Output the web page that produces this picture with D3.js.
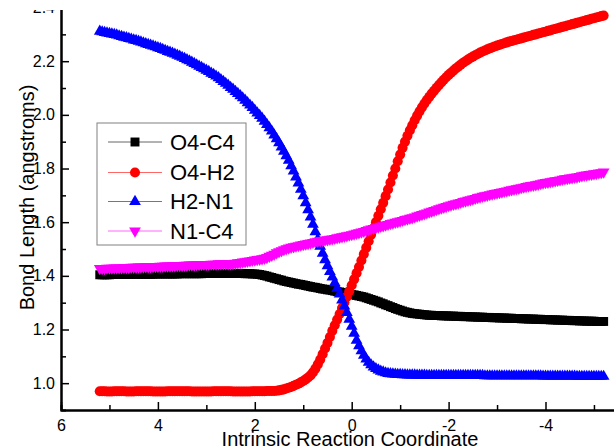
<!DOCTYPE html>
<html>
<head>
<meta charset="utf-8">
<script src="https://cdn.jsdelivr.net/npm/d3@7"></script>
<style>
  body { margin: 0; background: #fff; }
  svg { display: block; font-family: 'Liberation Sans', Arial, sans-serif; }
  .axis path, .axis line { stroke: #000; }
  .axis path { stroke-width: 2px; }
  .axis line { stroke-width: 1.5px; }
  .axis text { font-size: 16px; fill: #000; }
  .title { font-size: 20px; fill: #000; }
  .legend text { font-size: 22px; fill: #000; }
</style>
</head>
<body>
<div id="chart"></div>
<script>
// IRC positions, 5.2 down to -5.2
const irc = [
  5.2, 5.15, 5.1, 5.05, 5.0, 4.95, 4.9, 4.85, 4.8, 4.75,
  4.7, 4.65, 4.6, 4.55, 4.5, 4.45, 4.4, 4.35, 4.3, 4.25,
  4.2, 4.15, 4.1, 4.05, 4.0, 3.95, 3.9, 3.85, 3.8, 3.75,
  3.7, 3.65, 3.6, 3.55, 3.5, 3.45, 3.4, 3.35, 3.3, 3.25,
  3.2, 3.15, 3.1, 3.05, 3.0, 2.95, 2.9, 2.85, 2.8, 2.75,
  2.7, 2.65, 2.6, 2.55, 2.5, 2.45, 2.4, 2.35, 2.3, 2.25,
  2.2, 2.15, 2.1, 2.05, 2.0, 1.95, 1.9, 1.85, 1.8, 1.75,
  1.7, 1.65, 1.6, 1.55, 1.5, 1.45, 1.4, 1.35, 1.3, 1.25,
  1.2, 1.15, 1.1, 1.05, 1.0, 0.95, 0.9, 0.85, 0.8, 0.75,
  0.7, 0.65, 0.6, 0.55, 0.5, 0.45, 0.4, 0.35, 0.3, 0.25,
  0.2, 0.15, 0.1, 0.05, 0.0,
  -0.05, -0.1, -0.15, -0.2, -0.25, -0.3, -0.35, -0.4, -0.45, -0.5,
  -0.55, -0.6, -0.65, -0.7, -0.75, -0.8, -0.85, -0.9, -0.95, -1.0,
  -1.05, -1.1, -1.15, -1.2, -1.25, -1.3, -1.35, -1.4, -1.45, -1.5,
  -1.55, -1.6, -1.65, -1.7, -1.75, -1.8, -1.85, -1.9, -1.95, -2.0,
  -2.05, -2.1, -2.15, -2.2, -2.25, -2.3, -2.35, -2.4, -2.45, -2.5,
  -2.55, -2.6, -2.65, -2.7, -2.75, -2.8, -2.85, -2.9, -2.95, -3.0,
  -3.05, -3.1, -3.15, -3.2, -3.25, -3.3, -3.35, -3.4, -3.45, -3.5,
  -3.55, -3.6, -3.65, -3.7, -3.75, -3.8, -3.85, -3.9, -3.95, -4.0,
  -4.05, -4.1, -4.15, -4.2, -4.25, -4.3, -4.35, -4.4, -4.45, -4.5,
  -4.55, -4.6, -4.65, -4.7, -4.75, -4.8, -4.85, -4.9, -4.95, -5.0,
  -5.05, -5.1, -5.15, -5.2
];

const o4c4 = [
  1.404, 1.404, 1.404, 1.404, 1.404, 1.405, 1.405, 1.405, 1.405, 1.405,
  1.405, 1.405, 1.405, 1.406, 1.406, 1.406, 1.406, 1.406, 1.406, 1.406,
  1.406, 1.406, 1.406, 1.407, 1.407, 1.407, 1.407, 1.407, 1.407, 1.407,
  1.407, 1.407, 1.407, 1.408, 1.408, 1.408, 1.408, 1.408, 1.408, 1.408,
  1.408, 1.408, 1.408, 1.409, 1.409, 1.409, 1.409, 1.409, 1.409, 1.409,
  1.409, 1.409, 1.409, 1.409, 1.409, 1.409, 1.409, 1.409, 1.409, 1.409,
  1.408, 1.408, 1.408, 1.407, 1.407, 1.406, 1.405, 1.403, 1.401, 1.399,
  1.396, 1.394, 1.391, 1.389, 1.386, 1.384, 1.381, 1.379, 1.377, 1.375,
  1.373, 1.371, 1.369, 1.368, 1.366, 1.364, 1.362, 1.360, 1.358, 1.357,
  1.355, 1.353, 1.351, 1.350, 1.348, 1.347, 1.345, 1.343, 1.341, 1.340,
  1.338, 1.336, 1.334, 1.332, 1.330,
  1.329, 1.327, 1.325, 1.323, 1.321, 1.318, 1.315, 1.312, 1.309, 1.306,
  1.303, 1.299, 1.296, 1.292, 1.289, 1.285, 1.282, 1.278, 1.275, 1.272,
  1.269, 1.266, 1.264, 1.262, 1.260, 1.259, 1.258, 1.257, 1.256, 1.255,
  1.254, 1.253, 1.253, 1.252, 1.252, 1.252, 1.251, 1.251, 1.251, 1.250,
  1.250, 1.250, 1.249, 1.249, 1.249, 1.248, 1.248, 1.248, 1.247, 1.247,
  1.247, 1.246, 1.246, 1.246, 1.245, 1.245, 1.245, 1.244, 1.244, 1.244,
  1.243, 1.243, 1.243, 1.242, 1.242, 1.242, 1.241, 1.241, 1.241, 1.240,
  1.240, 1.240, 1.239, 1.239, 1.239, 1.238, 1.238, 1.238, 1.237, 1.237,
  1.237, 1.236, 1.236, 1.236, 1.235, 1.235, 1.235, 1.234, 1.234, 1.234,
  1.233, 1.233, 1.233, 1.232, 1.232, 1.232, 1.231, 1.231, 1.231, 1.231,
  1.230, 1.230, 1.230, 1.230
];

const o4h2 = [
  0.970, 0.970, 0.970, 0.969, 0.969, 0.969, 0.970, 0.970, 0.970, 0.970,
  0.970, 0.969, 0.969, 0.969, 0.969, 0.970, 0.970, 0.970, 0.970, 0.970,
  0.970, 0.970, 0.969, 0.969, 0.969, 0.969, 0.969, 0.969, 0.970, 0.970,
  0.970, 0.970, 0.970, 0.970, 0.970, 0.970, 0.970, 0.970, 0.969, 0.969,
  0.969, 0.969, 0.969, 0.969, 0.969, 0.969, 0.969, 0.970, 0.970, 0.970,
  0.970, 0.970, 0.970, 0.970, 0.970, 0.969, 0.969, 0.969, 0.969, 0.969,
  0.969, 0.969, 0.969, 0.970, 0.970, 0.970, 0.970, 0.970, 0.970, 0.971,
  0.971, 0.971, 0.971, 0.972, 0.973, 0.975, 0.977, 0.980, 0.983, 0.986,
  0.990, 0.994, 0.998, 1.003, 1.008, 1.014, 1.021, 1.029, 1.040, 1.054,
  1.070, 1.088, 1.108, 1.129, 1.150, 1.172, 1.195, 1.216, 1.237, 1.258,
  1.280, 1.301, 1.322, 1.343, 1.365,
  1.387, 1.410, 1.433, 1.457, 1.481, 1.505, 1.529, 1.553, 1.577, 1.600,
  1.624, 1.648, 1.672, 1.697, 1.722, 1.748, 1.774, 1.800, 1.827, 1.852,
  1.877, 1.900, 1.922, 1.942, 1.961, 1.980, 1.997, 2.013, 2.028, 2.042,
  2.055, 2.067, 2.079, 2.090, 2.101, 2.111, 2.121, 2.131, 2.140, 2.149,
  2.157, 2.165, 2.173, 2.180, 2.187, 2.194, 2.200, 2.206, 2.212, 2.217,
  2.222, 2.227, 2.232, 2.236, 2.240, 2.244, 2.248, 2.251, 2.255, 2.258,
  2.261, 2.264, 2.267, 2.270, 2.273, 2.275, 2.278, 2.280, 2.283, 2.285,
  2.288, 2.290, 2.293, 2.295, 2.298, 2.300, 2.303, 2.305, 2.308, 2.310,
  2.313, 2.315, 2.318, 2.320, 2.323, 2.325, 2.328, 2.330, 2.333, 2.335,
  2.338, 2.340, 2.343, 2.345, 2.348, 2.350, 2.353, 2.355, 2.358, 2.360,
  2.363, 2.365, 2.368, 2.370
];

const h2n1 = [
  2.311, 2.309, 2.307, 2.305, 2.303, 2.301, 2.299, 2.297, 2.294, 2.292,
  2.289, 2.287, 2.284, 2.282, 2.279, 2.277, 2.274, 2.271, 2.268, 2.265,
  2.262, 2.259, 2.256, 2.253, 2.250, 2.247, 2.243, 2.240, 2.236, 2.233,
  2.229, 2.226, 2.222, 2.218, 2.214, 2.210, 2.205, 2.201, 2.196, 2.191,
  2.186, 2.181, 2.176, 2.171, 2.166, 2.161, 2.155, 2.150, 2.144, 2.138,
  2.131, 2.124, 2.117, 2.110, 2.102, 2.095, 2.087, 2.079, 2.071, 2.063,
  2.054, 2.045, 2.036, 2.027, 2.017, 2.007, 1.997, 1.987, 1.976, 1.964,
  1.952, 1.939, 1.925, 1.911, 1.896, 1.880, 1.864, 1.847, 1.830, 1.810,
  1.790, 1.768, 1.746, 1.722, 1.698, 1.672, 1.646, 1.619, 1.592, 1.564,
  1.536, 1.510, 1.484, 1.460, 1.437, 1.416, 1.395, 1.374, 1.353, 1.332,
  1.310, 1.287, 1.263, 1.238, 1.212,
  1.186, 1.160, 1.139, 1.120, 1.104, 1.090, 1.078, 1.068, 1.060, 1.054,
  1.049, 1.044, 1.041, 1.038, 1.036, 1.035, 1.034, 1.033, 1.032, 1.032,
  1.031, 1.031, 1.030, 1.030, 1.030, 1.030, 1.029, 1.029, 1.029, 1.029,
  1.028, 1.028, 1.028, 1.028, 1.028, 1.028, 1.028, 1.028, 1.028, 1.028,
  1.028, 1.028, 1.028, 1.028, 1.028, 1.028, 1.028, 1.028, 1.028, 1.028,
  1.028, 1.028, 1.028, 1.028, 1.027, 1.027, 1.027, 1.027, 1.027, 1.027,
  1.027, 1.027, 1.027, 1.027, 1.027, 1.027, 1.027, 1.027, 1.027, 1.027,
  1.027, 1.027, 1.027, 1.027, 1.027, 1.027, 1.027, 1.027, 1.026, 1.026,
  1.026, 1.026, 1.026, 1.026, 1.026, 1.026, 1.026, 1.026, 1.026, 1.026,
  1.026, 1.026, 1.025, 1.025, 1.025, 1.025, 1.025, 1.025, 1.025, 1.025,
  1.025, 1.025, 1.025, 1.025
];

const n1c4 = [
  1.428, 1.428, 1.428, 1.429, 1.429, 1.429, 1.430, 1.430, 1.430, 1.430,
  1.431, 1.431, 1.431, 1.432, 1.432, 1.432, 1.433, 1.433, 1.433, 1.434,
  1.434, 1.434, 1.435, 1.435, 1.435, 1.436, 1.436, 1.437, 1.437, 1.437,
  1.438, 1.438, 1.439, 1.439, 1.439, 1.440, 1.440, 1.441, 1.441, 1.441,
  1.442, 1.442, 1.442, 1.443, 1.443, 1.443, 1.444, 1.444, 1.444, 1.445,
  1.445, 1.445, 1.445, 1.445, 1.445, 1.446, 1.447, 1.449, 1.450, 1.452,
  1.453, 1.455, 1.456, 1.458, 1.459, 1.461, 1.462, 1.464, 1.466, 1.469,
  1.473, 1.477, 1.481, 1.486, 1.490, 1.494, 1.498, 1.501, 1.504, 1.507,
  1.509, 1.511, 1.513, 1.515, 1.517, 1.519, 1.521, 1.523, 1.525, 1.527,
  1.529, 1.531, 1.532, 1.534, 1.535, 1.537, 1.538, 1.540, 1.542, 1.544,
  1.546, 1.548, 1.550, 1.552, 1.554,
  1.556, 1.559, 1.561, 1.564, 1.566, 1.569, 1.572, 1.575, 1.577, 1.580,
  1.582, 1.585, 1.587, 1.590, 1.592, 1.595, 1.597, 1.600, 1.602, 1.605,
  1.607, 1.610, 1.612, 1.615, 1.617, 1.620, 1.623, 1.626, 1.629, 1.632,
  1.635, 1.638, 1.641, 1.644, 1.647, 1.650, 1.653, 1.656, 1.659, 1.662,
  1.664, 1.667, 1.669, 1.672, 1.674, 1.677, 1.679, 1.682, 1.684, 1.687,
  1.689, 1.692, 1.694, 1.697, 1.699, 1.701, 1.703, 1.705, 1.707, 1.709,
  1.711, 1.713, 1.715, 1.717, 1.719, 1.721, 1.723, 1.725, 1.727, 1.729,
  1.731, 1.733, 1.735, 1.737, 1.738, 1.740, 1.742, 1.744, 1.746, 1.748,
  1.749, 1.751, 1.753, 1.755, 1.756, 1.758, 1.760, 1.762, 1.763, 1.765,
  1.766, 1.768, 1.769, 1.771, 1.773, 1.775, 1.776, 1.778, 1.779, 1.781,
  1.782, 1.784, 1.785, 1.787
];

const seriesNames = ['O4-C4', 'O4-H2', 'H2-N1', 'N1-C4'];
const seriesValues = [o4c4, o4h2, h2n1, n1c4];
const seriesColors = ['#000000', '#ff0000', '#0000ff', '#ff00ff'];

const xMajor = [6, 4, 2, 0, -2, -4];
const xMinor = [5, 3, 1, -1, -3, -5];
const yMajor = [1.0, 1.2, 1.4, 1.6, 1.8, 2.0, 2.2, 2.4];
const yMinor = [1.1, 1.3, 1.5, 1.7, 1.9, 2.1, 2.3];

const W = 614, H = 448;

function markerPath(i, size) {
  // square, circle, up triangle, down triangle (rotated where used)
  const types = [d3.symbolSquare, d3.symbolCircle, d3.symbolTriangle, d3.symbolTriangle];
  const sizes = [size.square, size.circle, size.tri, size.tri];
  return d3.symbol().type(types[i]).size(sizes[i])();
}

function addAxes(svg, x, y) {
  const [y0] = y.range();
  const [x0] = x.range();
  // minor ticks first
  svg.append('g')
    .attr('class', 'axis')
    .attr('transform', `translate(0,${y0})`)
    .call(d3.axisBottom(x).tickValues(xMinor).tickSize(-5).tickFormat(''));
  svg.append('g')
    .attr('class', 'axis')
    .attr('transform', `translate(${x0},0)`)
    .call(d3.axisLeft(y).tickValues(yMinor).tickSize(-5).tickFormat(''));
  svg.append('g')
    .attr('class', 'axis')
    .attr('transform', `translate(0,${y0})`)
    .call(d3.axisBottom(x).tickValues(xMajor).tickSizeInner(-8).tickSizeOuter(0)
          .tickPadding(10).tickFormat(d => String(d)));
  svg.append('g')
    .attr('class', 'axis')
    .attr('transform', `translate(${x0},0)`)
    .call(d3.axisLeft(y).tickValues(yMajor).tickSizeInner(-8).tickSizeOuter(0)
          .tickPadding(6).tickFormat(d3.format('.1f')));
}

function addData(svg, x, y, size) {
  seriesValues.forEach((vals, i) => {
    const pts = irc.map((d, k) => [x(d), y(vals[k])]);
    svg.append('path')
      .attr('d', d3.line()(pts))
      .attr('fill', 'none')
      .attr('stroke', seriesColors[i])
      .attr('stroke-width', 1);
    const sym = markerPath(i, size);
    svg.append('g')
      .selectAll('path')
      .data(pts)
      .enter().append('path')
      .attr('d', sym)
      .attr('transform', d => `translate(${d[0]},${d[1]})` + (i === 3 ? ' rotate(180)' : ''))
      .style('fill', seriesColors[i]);
  });
}

function addLegend(svg, size) {
  const box = {x: 97, y: 123, w: 149, h: 122};
  svg.append('rect')
    .attr('x', box.x).attr('y', box.y)
    .attr('width', box.w).attr('height', box.h)
    .attr('fill', '#fff')
    .attr('stroke', '#808080')
    .attr('stroke-width', 1);
  const rows = [142, 172.5, 201.5, 231];
  const legend = svg.append('g')
    .attr('class', 'legend')
    .selectAll('g')
    .data(seriesNames)
    .enter().append('g')
    .attr('transform', (_, i) => `translate(108,${rows[i]})`);
  legend.append('line')
    .attr('x2', 54)
    .style('stroke', (_, i) => seriesColors[i])
    .style('stroke-opacity', 0.6)
    .style('stroke-width', 1);
  legend.append('path')
    .attr('d', (_, i) => markerPath(i, size))
    .attr('transform', (_, i) => 'translate(27,0)' + (i === 3 ? ' rotate(180)' : ''))
    .style('fill', (_, i) => seriesColors[i]);
  legend.append('text')
    .attr('x', 62)
    .attr('dy', '.36em')
    .text(d => d);
}

function plot() {
  const svg = d3.select('#chart').append('svg')
    .attr('width', W)
    .attr('height', H);
  const x = d3.scaleLinear().domain([6, -6]).range([61, 642.4]);
  const y = d3.scaleLinear().domain([0.9, 2.5]).range([410, -19.3]);
  const size = {square: 80, circle: 80, tri: 60};

  addData(svg, x, y, size);
  addAxes(svg, x, y);

  // the picture is cut off above y = 10
  svg.append('rect')
    .attr('x', 0).attr('y', 0)
    .attr('width', W).attr('height', 10)
    .attr('fill', '#fff');

  addLegend(svg, size);

  svg.append('text')
    .attr('class', 'title')
    .attr('x', 350)
    .attr('y', 446)
    .attr('text-anchor', 'middle')
    .text('Intrinsic Reaction Coordinate');
  svg.append('text')
    .attr('class', 'title')
    .attr('transform', 'translate(34,197.5) rotate(-90)')
    .attr('text-anchor', 'middle')
    .text('Bond Length (angstroms)');
}

plot();
</script>
</body>
</html>
